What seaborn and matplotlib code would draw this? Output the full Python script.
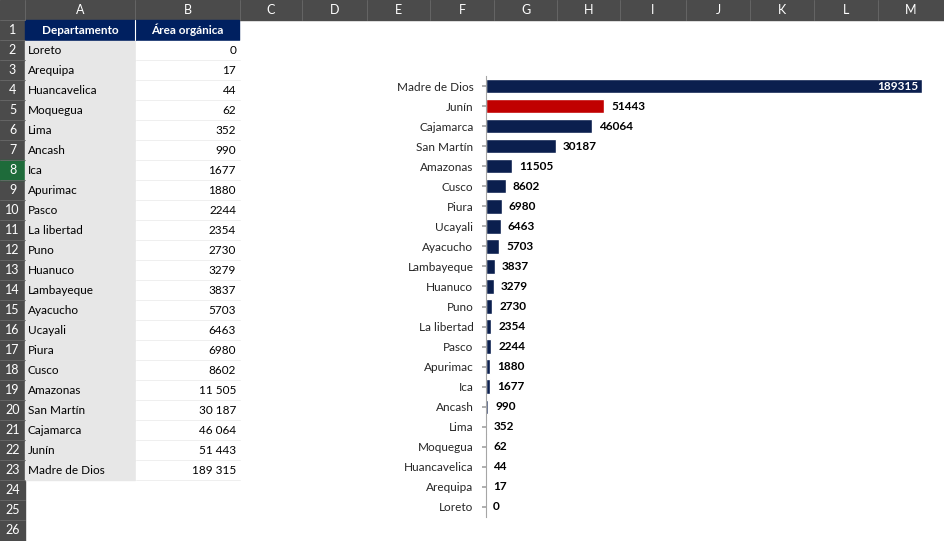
import matplotlib
matplotlib.use("Agg")
import pandas as pd
import seaborn as sns
import matplotlib.pyplot as plt
from matplotlib.patches import Rectangle

departamentos = ["Loreto", "Arequipa", "Huancavelica", "Moquegua", "Lima", "Ancash", "Ica",
                 "Apurimac", "Pasco", "La libertad", "Puno", "Huanuco", "Lambayeque", "Ayacucho",
                 "Ucayali", "Piura", "Cusco", "Amazonas", "San Martín", "Cajamarca", "Junín",
                 "Madre de Dios"]
area = [0, 17, 44, 62, 352, 990, 1677, 1880, 2244, 2354, 2730, 3279, 3837, 5703,
        6463, 6980, 8602, 11505, 30187, 46064, 51443, 189315]
col_letters = ["A", "B", "C", "D", "E", "F", "G", "H", "I", "J", "K", "L", "M"]
col_edges = [25, 135, 240, 302, 367, 430, 494, 557, 620, 686, 750, 814, 878, 944]

sns.set_theme(style="white")
plt.rcParams["font.family"] = ["Lato", "DejaVu Sans"]

fig = plt.figure(figsize=(9.44, 5.41), dpi=100)
bg = fig.add_axes([0, 0, 1, 1])
bg.set_xlim(0, 944)
bg.set_ylim(541, 0)
bg.axis("off")

def fmt(v):
    return f"{v:,}".replace(",", " ") if v >= 10000 else str(v)

# column header
bg.add_patch(Rectangle((0, 0), 944, 20, color="#4b4b4b"))
for i, c in enumerate(col_letters):
    bg.text((col_edges[i] + col_edges[i + 1]) / 2, 10, c, color="white", ha="center", va="center", fontsize=9)
    bg.plot([col_edges[i], col_edges[i]], [0, 20], color="#6a6a6a", lw=0.6)
# row header
bg.add_patch(Rectangle((0, 20), 25, 521, color="#4b4b4b"))
for r in range(1, 27):
    y = 20 + (r - 1) * 20
    if r == 8:
        bg.add_patch(Rectangle((0, y), 25, 20, color="#1e6b3a"))
    bg.text(12.5, y + 10, str(r), color="white", ha="center", va="center", fontsize=9)
    bg.plot([0, 25], [y, y], color="#6a6a6a", lw=0.6)
# table
bg.add_patch(Rectangle((25, 20), 214, 20, color="#002060"))
bg.plot([135, 135], [20, 40], color="white", lw=0.8)
bg.text(80, 30, "Departamento", color="white", ha="center", va="center", fontsize=8.5, weight="bold")
bg.text(187, 30, "Área orgánica", color="white", ha="center", va="center", fontsize=8.5, weight="bold")
for i, (d, v) in enumerate(zip(departamentos, area)):
    y = 40 + i * 20
    bg.add_patch(Rectangle((25, y + 0.5), 110, 19, color="#e7e7e7"))
    bg.add_patch(Rectangle((135.5, y + 0.5), 104, 19, color="white"))
    bg.plot([135.5, 239.5], [y + 20, y + 20], color="#ededed", lw=0.6)
    bg.text(28, y + 10, d, ha="left", va="center", fontsize=8.5, color="black")
    bg.text(236, y + 10, fmt(v), ha="right", va="center", fontsize=8.5, color="black")

# chart
ax = fig.add_axes([486 / 944, (541 - 517) / 541, (922 - 486) / 944, (517 - 76) / 541])
df = pd.DataFrame({"dep": departamentos, "area": area})
order = departamentos[::-1]
pal = {d: ("#c00000" if d == "Junín" else "#0b1f4e") for d in departamentos}
sns.barplot(data=df, y="dep", x="area", hue="dep", order=order, palette=pal,
            width=0.72, saturation=1, legend=False, ax=ax)
ax.set_xlim(0, max(area))
ax.set_xlabel("")
ax.set_ylabel("")
ax.set_xticks([])
ax.patch.set_alpha(0)
for s in ["top", "right", "bottom"]:
    ax.spines[s].set_visible(False)
ax.spines["left"].set_color("#a6a6a6")
ax.spines["left"].set_linewidth(0.8)
ax.tick_params(axis="y", left=True, length=3, color="#a6a6a6", labelsize=8.5, pad=6)
for i, d in enumerate(order):
    v = area[departamentos.index(d)]
    if v == max(area):
        ax.text(v - 1500, i, str(v), ha="right", va="center", color="white", fontsize=8.5, weight="bold")
    else:
        ax.text(v + 3000, i, str(v), ha="left", va="center", color="black", fontsize=8.5, weight="bold")

fig.savefig("out.png", dpi=100)
